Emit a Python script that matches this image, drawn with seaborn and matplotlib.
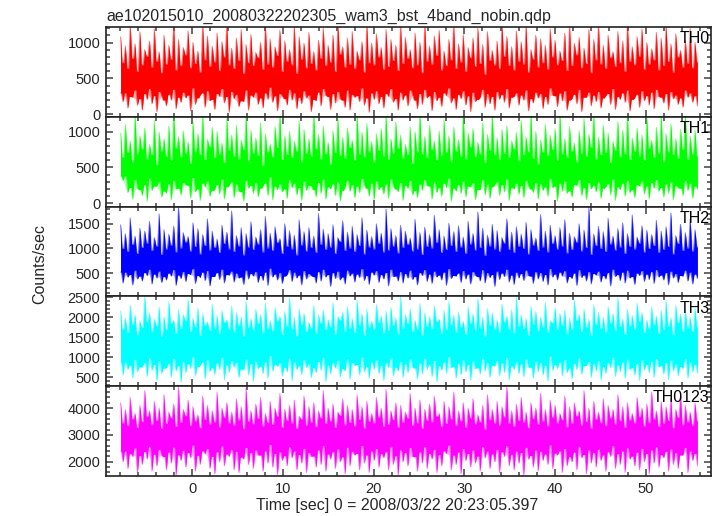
import numpy as np
import pandas as pd
import matplotlib
matplotlib.use("Agg")
import matplotlib.pyplot as plt
import seaborn as sns
from matplotlib.ticker import MultipleLocator

# ---------------- text ----------------
title = "ae102015010_20080322202305_wam3_bst_4band_nobin.qdp"
xlabel = "Time [sec] 0 = 2008/03/22 20:23:05.397"
ylabel = "Counts/sec"
bands = ["TH0", "TH1", "TH2", "TH3", "TH0123"]
colors = ["#ff0000", "#00ff00", "#0000ff", "#00ffff", "#ff00ff"]

# time span of the light curves (s)
t_start, t_end = -7.9, 55.7

# ---------------- data ----------------
# *_hi : spike maxima, *_vu : upper edge of the dense band between spikes
# *_lo : dip minima,   *_vl : lower edge of the dense band between dips
th0_hi = [1080, 950, 1250, 980, 1150, 900, 1020, 1190, 870, 1100,
          960, 1250, 1040, 930, 1160, 1000, 880, 1250, 1090, 950,
          1130, 1010, 1250, 920, 1060, 1180, 970, 1110, 860, 1000,
          1250, 1050, 940, 1170, 1020, 900, 1250, 1080, 990, 1140,
          870, 1030, 1200, 960, 1100, 1250, 940, 1060, 1150, 880,
          1010, 1250, 990, 1120, 930, 1180, 1040, 960, 1250, 1070,
          900, 1130, 1000, 1250, 950, 1090, 1170, 880, 1040, 1250,
          980, 1110, 930, 1060, 1200, 970, 1150, 890, 1020, 1250,
          1080, 940, 1160, 1010, 1250, 900, 1100, 1050, 960, 1190,
          1030, 880, 1130, 1250, 990, 1070, 920, 1180, 1040, 1250,
          960, 1100, 870, 1150, 1020, 1250, 940, 1080, 1190, 1000,
          910, 1140, 1060, 1250, 980, 1120, 890, 1030, 1200, 1000]
th0_vu = [720, 640, 780, 600, 690, 810, 660, 740, 580, 700,
          770, 620, 680, 830, 650, 710, 590, 760, 670, 730,
          610, 800, 690, 640, 750, 570, 720, 680, 790, 630,
          700, 660, 820, 600, 740, 690, 570, 770, 650, 710,
          620, 780, 680, 730, 600, 840, 660, 700, 640, 760,
          590, 720, 690, 800, 630, 670, 750, 610, 710, 780,
          650, 690, 580, 740, 700, 820, 620, 680, 760, 640,
          730, 600, 790, 670, 710, 560, 750, 690, 640, 810,
          680, 620, 740, 700, 590, 770, 660, 720, 630, 800,
          690, 750, 610, 680, 830, 650, 710, 580, 760, 700,
          640, 790, 670, 720, 600, 740, 690, 810, 630, 700,
          760, 620, 680, 740, 590, 800, 660, 710, 650, 730]
th0_vl = [300, 250, 340, 220, 290, 360, 260, 320, 200, 280,
          350, 240, 310, 270, 370, 230, 300, 330, 210, 290,
          360, 250, 320, 280, 190, 340, 270, 310, 230, 300,
          380, 260, 290, 220, 350, 300, 240, 330, 270, 210,
          310, 360, 250, 290, 320, 200, 340, 280, 260, 370,
          230, 300, 330, 250, 290, 360, 220, 310, 270, 340,
          200, 290, 350, 260, 320, 240, 300, 370, 230, 280,
          330, 260, 310, 210, 350, 290, 250, 320, 280, 360,
          240, 300, 270, 340, 220, 310, 290, 250, 370, 260,
          300, 330, 200, 280, 350, 240, 310, 270, 320, 230,
          290, 360, 250, 300, 340, 210, 280, 330, 260, 310,
          350, 240, 290, 320, 270, 230, 340, 300, 260, 310]
th0_lo = [180, 90, 240, 130, 60, 210, 150, 40, 260, 120,
          200, 80, 170, 230, 50, 140, 270, 100, 190, 70,
          250, 160, 30, 220, 110, 180, 60, 240, 140, 90,
          210, 170, 50, 260, 130, 200, 80, 150, 230, 40,
          190, 120, 270, 70, 160, 220, 100, 60, 240, 180,
          130, 30, 210, 150, 90, 250, 170, 60, 200, 120,
          270, 80, 140, 230, 50, 190, 110, 260, 160, 70,
          220, 130, 40, 180, 240, 100, 150, 60, 210, 170,
          90, 250, 130, 200, 50, 160, 230, 80, 140, 270,
          110, 190, 60, 220, 150, 40, 240, 120, 180, 90,
          260, 140, 70, 210, 170, 50, 230, 100, 190, 130,
          80, 250, 160, 60, 220, 140, 100, 240, 170, 120]

th1_hi = [980, 1100, 870, 1250, 940, 1050, 820, 1160, 990, 900,
          1080, 1250, 930, 1010, 860, 1140, 970, 1250, 890, 1060,
          1000, 840, 1180, 950, 1090, 880, 1250, 1020, 910, 1120,
          970, 830, 1070, 1250, 940, 1000, 870, 1150, 1030, 900,
          1250, 960, 1080, 850, 1010, 1190, 920, 1050, 880, 1250,
          990, 1110, 860, 970, 1040, 1250, 900, 1130, 950, 820,
          1070, 1000, 1250, 930, 1090, 870, 1010, 1170, 940, 1060,
          890, 1250, 980, 1040, 850, 1120, 960, 1250, 910, 1030,
          1080, 870, 990, 1160, 930, 1250, 1000, 880, 1100, 950,
          1040, 1250, 900, 1070, 840, 1010, 1180, 960, 1250, 920,
          1090, 980, 860, 1140, 1020, 1250, 910, 1050, 950, 1200,
          880, 1060, 1250, 970, 1110, 900, 1030, 1250, 940, 1020]
th1_vu = [640, 710, 580, 690, 760, 620, 680, 540, 730, 660,
          600, 770, 650, 700, 560, 720, 680, 610, 790, 640,
          690, 570, 740, 660, 620, 750, 590, 700, 670, 530,
          720, 650, 780, 610, 680, 640, 730, 580, 700, 660,
          760, 620, 690, 550, 710, 670, 630, 780, 600, 690,
          650, 720, 580, 740, 660, 610, 700, 770, 630, 680,
          560, 720, 690, 640, 750, 600, 670, 710, 580, 730,
          660, 620, 790, 650, 690, 570, 740, 680, 610, 700,
          640, 760, 590, 680, 720, 630, 550, 710, 670, 750,
          600, 690, 640, 730, 580, 700, 660, 780, 620, 680,
          710, 570, 740, 650, 690, 610, 730, 660, 600, 770,
          640, 700, 580, 720, 680, 630, 750, 610, 690, 660]
th1_vl = [380, 220, 330, 190, 260, 350, 240, 300, 170, 270,
          320, 210, 290, 250, 360, 200, 280, 310, 180, 260,
          340, 230, 300, 270, 160, 320, 250, 290, 210, 280,
          370, 240, 270, 200, 330, 280, 220, 310, 250, 190,
          290, 340, 230, 270, 300, 180, 320, 260, 240, 350,
          210, 280, 310, 230, 270, 340, 200, 290, 250, 320,
          180, 270, 330, 240, 300, 220, 280, 350, 210, 260,
          310, 240, 290, 190, 330, 270, 230, 300, 260, 340,
          220, 280, 250, 320, 200, 290, 270, 230, 350, 240,
          280, 310, 180, 260, 330, 220, 290, 250, 300, 210,
          270, 340, 230, 280, 320, 190, 260, 310, 240, 290,
          330, 220, 270, 300, 250, 210, 320, 280, 240, 290]
th1_lo = [320, 150, 60, 210, 110, 30, 180, 240, 90, 140,
          50, 200, 120, 260, 70, 160, 40, 230, 100, 190,
          130, 60, 250, 80, 170, 30, 210, 140, 90, 240,
          110, 50, 190, 160, 70, 220, 120, 40, 180, 250,
          90, 140, 60, 200, 110, 30, 230, 170, 80, 150,
          260, 100, 50, 190, 130, 70, 240, 160, 40, 210,
          120, 80, 180, 250, 60, 150, 100, 220, 30, 170,
          140, 90, 230, 50, 190, 120, 70, 260, 110, 160,
          40, 200, 130, 80, 240, 150, 60, 180, 100, 220,
          30, 170, 140, 90, 250, 110, 50, 200, 160, 70,
          230, 120, 40, 190, 100, 150, 80, 240, 130, 60,
          210, 170, 90, 140, 50, 220, 110, 180, 70, 200]

th2_hi = [1480, 1300, 1620, 1250, 1410, 1350, 1550, 1220, 1700, 1380,
          1290, 1450, 1860, 1320, 1240, 1520, 1400, 1280, 1600, 1350,
          1190, 1470, 1330, 1760, 1260, 1420, 1300, 1540, 1230, 1380,
          1650, 1310, 1440, 1200, 1500, 1360, 1270, 1580, 1340, 1420,
          1250, 1710, 1390, 1300, 1480, 1220, 1560, 1330, 1450, 1280,
          1620, 1370, 1240, 1500, 1310, 1800, 1400, 1260, 1470, 1350,
          1210, 1590, 1320, 1430, 1280, 1670, 1380, 1250, 1510, 1340,
          1460, 1230, 1550, 1300, 1740, 1410, 1270, 1490, 1360, 1220,
          1600, 1330, 1440, 1290, 1530, 1380, 1210, 1690, 1350, 1470,
          1260, 1420, 1580, 1310, 1240, 1500, 1370, 1830, 1290, 1450,
          1340, 1610, 1250, 1400, 1520, 1300, 1680, 1230, 1460, 1370,
          1280, 1570, 1350, 1440, 1720, 1260, 1490, 1320, 1600, 1380]
th2_vu = [1000, 940, 1080, 900, 1020, 1110, 960, 1050, 880, 990,
          1070, 930, 1010, 1130, 950, 1040, 890, 1060, 970, 1020,
          920, 1100, 990, 940, 1050, 870, 1030, 980, 1090, 930,
          1010, 960, 1120, 900, 1040, 990, 870, 1070, 950, 1020,
          920, 1080, 980, 1030, 900, 1140, 960, 1010, 940, 1060,
          890, 1030, 990, 1100, 930, 970, 1050, 910, 1020, 1080,
          950, 990, 880, 1040, 1010, 1120, 920, 980, 1060, 940,
          1030, 900, 1090, 970, 1020, 860, 1050, 990, 940, 1110,
          980, 920, 1040, 1000, 890, 1070, 960, 1030, 930, 1100,
          990, 1050, 910, 980, 1130, 950, 1020, 880, 1060, 1000,
          940, 1090, 970, 1030, 900, 1040, 990, 1110, 930, 1000,
          1060, 920, 980, 1040, 890, 1100, 960, 1010, 950, 1030]
th2_vl = [520, 470, 560, 440, 510, 580, 480, 540, 430, 500,
          570, 460, 530, 490, 590, 450, 520, 550, 430, 510,
          580, 470, 540, 500, 420, 560, 490, 530, 450, 520,
          600, 480, 510, 440, 570, 520, 460, 550, 490, 430,
          530, 580, 470, 510, 540, 420, 560, 500, 480, 590,
          450, 520, 550, 470, 510, 580, 440, 530, 490, 560,
          430, 510, 570, 480, 540, 460, 520, 590, 450, 500,
          550, 480, 530, 430, 570, 510, 470, 540, 500, 580,
          460, 520, 490, 560, 440, 530, 510, 470, 590, 480,
          520, 550, 430, 500, 570, 460, 530, 490, 540, 450,
          510, 580, 470, 520, 560, 430, 500, 550, 480, 530,
          570, 460, 510, 540, 490, 450, 560, 520, 480, 530]
th2_lo = [300, 420, 260, 380, 340, 450, 280, 400, 310, 360,
          440, 250, 390, 330, 470, 290, 410, 350, 240, 430,
          370, 300, 460, 320, 400, 270, 380, 440, 310, 350,
          250, 420, 360, 290, 470, 330, 400, 260, 380, 450,
          300, 340, 420, 230, 390, 360, 280, 440, 320, 410,
          350, 270, 460, 310, 380, 240, 430, 340, 300, 400,
          370, 260, 450, 330, 290, 420, 360, 250, 390, 440,
          310, 380, 280, 460, 340, 300, 410, 230, 370, 430,
          320, 270, 400, 350, 450, 290, 380, 330, 260, 420,
          360, 440, 300, 390, 250, 410, 340, 280, 460, 320,
          380, 240, 430, 350, 300, 400, 270, 450, 330, 370,
          290, 420, 360, 260, 400, 310, 440, 340, 280, 390]

th3_hi = [2150, 1980, 2300, 2050, 1900, 2520, 2100, 1950, 2250, 2000,
          2380, 1920, 2180, 2060, 2450, 1970, 2220, 2080, 1880, 2320,
          2040, 2160, 1930, 2270, 2110, 2000, 2400, 1960, 2190, 2070,
          2350, 1910, 2230, 2020, 2140, 2480, 1990, 2200, 2090, 1870,
          2290, 2050, 2170, 1940, 2360, 2010, 2130, 2260, 1960, 2420,
          2080, 2190, 1900, 2310, 2030, 2150, 2240, 1980, 2520, 2060,
          2200, 1920, 2340, 2100, 2010, 2280, 1950, 2170, 2390, 2040,
          2130, 1890, 2250, 2070, 2460, 1990, 2210, 2110, 1930, 2330,
          2020, 2180, 2500, 2050, 1960, 2270, 2140, 2000, 2370, 1910,
          2230, 2090, 2160, 1970, 2430, 2060, 2200, 1940, 2300, 2120,
          1990, 2260, 2080, 2480, 1950, 2190, 2040, 2350, 2110, 1920,
          2240, 2030, 2170, 2410, 1980, 2290, 2070, 2150, 2000, 2220]
th3_vu = [1700, 1620, 1820, 1560, 1740, 1880, 1650, 1780, 1530, 1690,
          1850, 1600, 1720, 1910, 1640, 1760, 1550, 1800, 1670, 1730,
          1590, 1870, 1700, 1630, 1790, 1520, 1750, 1680, 1840, 1610,
          1710, 1660, 1900, 1570, 1770, 1700, 1520, 1820, 1640, 1730,
          1600, 1850, 1690, 1760, 1560, 1930, 1650, 1720, 1620, 1800,
          1550, 1750, 1700, 1860, 1610, 1670, 1790, 1580, 1730, 1840,
          1640, 1700, 1540, 1770, 1720, 1890, 1600, 1690, 1810, 1630,
          1760, 1570, 1850, 1670, 1730, 1510, 1790, 1700, 1630, 1880,
          1690, 1610, 1770, 1720, 1550, 1830, 1660, 1750, 1620, 1860,
          1700, 1790, 1580, 1690, 1920, 1640, 1740, 1540, 1810, 1710,
          1630, 1850, 1670, 1760, 1570, 1780, 1700, 1890, 1620, 1710,
          1810, 1600, 1690, 1770, 1560, 1860, 1650, 1730, 1640, 1760]
th3_vl = [880, 800, 950, 760, 860, 990, 820, 920, 730, 850,
          970, 790, 900, 840, 1020, 770, 880, 940, 740, 860,
          1000, 810, 920, 870, 710, 960, 840, 900, 780, 880,
          1040, 820, 860, 750, 980, 880, 790, 940, 840, 740,
          900, 1000, 810, 860, 930, 720, 960, 870, 820, 1010,
          770, 880, 940, 800, 860, 990, 750, 900, 840, 960,
          730, 860, 980, 820, 920, 790, 880, 1020, 770, 850,
          940, 820, 900, 740, 980, 870, 800, 920, 860, 1000,
          790, 880, 840, 960, 750, 900, 870, 800, 1030, 820,
          880, 940, 730, 850, 990, 790, 900, 840, 920, 770,
          860, 1000, 810, 880, 950, 740, 850, 940, 820, 900,
          970, 790, 870, 930, 840, 770, 960, 880, 820, 900]
th3_lo = [560, 700, 480, 640, 760, 520, 680, 420, 600, 740,
          500, 660, 380, 620, 720, 540, 800, 460, 650, 580,
          700, 440, 620, 760, 500, 680, 560, 400, 720, 600,
          480, 660, 780, 530, 640, 420, 700, 570, 750, 490,
          620, 680, 400, 590, 730, 510, 660, 450, 800, 560,
          640, 480, 700, 600, 420, 740, 540, 660, 500, 620,
          760, 460, 580, 700, 520, 390, 680, 600, 740, 480,
          560, 640, 430, 720, 580, 660, 500, 780, 540, 620,
          440, 700, 600, 520, 760, 480, 640, 560, 410, 680,
          720, 540, 620, 460, 700, 580, 800, 500, 660, 440,
          600, 740, 520, 640, 480, 700, 560, 420, 680, 620,
          500, 760, 580, 450, 660, 540, 720, 480, 640, 600]

th0123_hi = [4200, 3950, 4400, 3800, 4100, 4650, 3900, 4250, 4000, 4500,
             3850, 4150, 4800, 3950, 4300, 4050, 3750, 4450, 4100, 3900,
             4600, 4000, 4200, 3850, 4350, 4050, 4750, 3900, 4150, 4400,
             3800, 4250, 4000, 4550, 3950, 4100, 4300, 3700, 4450, 4050,
             4200, 3900, 4650, 4000, 4150, 3850, 4350, 4100, 3950, 4500,
             4050, 4250, 3800, 4400, 4000, 4700, 3900, 4200, 4100, 3850,
             4550, 4000, 4300, 3950, 4150, 4450, 3800, 4250, 4050, 4600,
             3900, 4200, 4000, 4350, 3750, 4100, 4500, 3950, 4250, 4050,
             4800, 3900, 4150, 4400, 3850, 4200, 4000, 4550, 3950, 4300,
             4100, 3800, 4450, 4050, 4200, 3900, 4650, 4000, 4250, 3850,
             4350, 4100, 3950, 4500, 4050, 4200, 3800, 4400, 4000, 4150,
             4600, 3900, 4250, 4050, 4350, 3950, 4500, 4100, 3850, 4200]
th0123_vu = [3450, 3350, 3600, 3280, 3500, 3680, 3380, 3540, 3250, 3440,
             3640, 3320, 3470, 3720, 3360, 3520, 3270, 3580, 3410, 3490,
             3300, 3660, 3450, 3370, 3560, 3230, 3510, 3420, 3620, 3340,
             3460, 3390, 3700, 3290, 3540, 3450, 3240, 3600, 3370, 3480,
             3310, 3640, 3430, 3520, 3280, 3740, 3380, 3470, 3340, 3580,
             3260, 3510, 3450, 3650, 3330, 3400, 3570, 3300, 3480, 3630,
             3360, 3450, 3250, 3550, 3490, 3690, 3310, 3430, 3600, 3350,
             3530, 3290, 3640, 3410, 3490, 3220, 3570, 3450, 3360, 3670,
             3440, 3330, 3540, 3480, 3270, 3610, 3390, 3520, 3340, 3650,
             3450, 3570, 3300, 3440, 3710, 3370, 3500, 3250, 3590, 3460,
             3350, 3640, 3410, 3530, 3290, 3560, 3450, 3680, 3340, 3460,
             3600, 3320, 3440, 3550, 3270, 3650, 3380, 3490, 3360, 3530]
th0123_vl = [2400, 2300, 2520, 2230, 2380, 2580, 2280, 2460, 2190, 2360,
             2550, 2260, 2430, 2340, 2620, 2240, 2400, 2490, 2200, 2370,
             2590, 2290, 2460, 2390, 2170, 2530, 2340, 2440, 2250, 2400,
             2640, 2310, 2370, 2220, 2560, 2400, 2270, 2500, 2340, 2210,
             2440, 2600, 2290, 2370, 2480, 2180, 2540, 2390, 2310, 2610,
             2250, 2400, 2490, 2300, 2370, 2580, 2220, 2440, 2340, 2530,
             2190, 2370, 2570, 2310, 2460, 2270, 2400, 2620, 2250, 2360,
             2490, 2310, 2440, 2210, 2570, 2390, 2290, 2460, 2370, 2600,
             2280, 2400, 2340, 2540, 2230, 2440, 2390, 2290, 2630, 2320,
             2400, 2490, 2190, 2360, 2580, 2270, 2440, 2340, 2470, 2250,
             2370, 2600, 2300, 2400, 2520, 2210, 2360, 2500, 2310, 2440,
             2560, 2270, 2390, 2480, 2340, 2250, 2530, 2400, 2310, 2420]
th0123_lo = [2000, 1750, 2200, 1600, 1900, 2100, 1650, 1850, 2250, 1700,
             1950, 1500, 2050, 1800, 2150, 1650, 1900, 2300, 1750, 1550,
             2000, 1850, 2200, 1700, 1600, 2100, 1900, 1750, 2250, 1650,
             1950, 1800, 1500, 2050, 1850, 2150, 1700, 1950, 1600, 2200,
             1800, 1900, 1650, 2100, 1750, 2000, 1550, 1850, 2250, 1700,
             1950, 1600, 2050, 1800, 2150, 1700, 1900, 1500, 2000, 1850,
             2200, 1650, 1950, 1750, 2100, 1600, 1850, 2300, 1700, 1900,
             1550, 2050, 1800, 1950, 1650, 2150, 1750, 2000, 1600, 2200,
             1850, 1700, 1950, 1500, 2100, 1800, 1650, 2050, 1900, 1750,
             2250, 1600, 1850, 2000, 1700, 2150, 1550, 1950, 1800, 2050,
             1650, 2200, 1750, 1900, 1600, 2100, 1850, 1700, 2000, 1550,
             1950, 1800, 2150, 1650, 1900, 1750, 2250, 1600, 2050, 1850]

his = [th0_hi, th1_hi, th2_hi, th3_hi, th0123_hi]
vus = [th0_vu, th1_vu, th2_vu, th3_vu, th0123_vu]
vls = [th0_vl, th1_vl, th2_vl, th3_vl, th0123_vl]
los = [th0_lo, th1_lo, th2_lo, th3_lo, th0123_lo]

# axis setup
ylims = [(-33, 1216), (-47, 1208), (26, 1851), (280, 2515), (1466, 4821)]
ymajor = [500, 500, 500, 500, 1000]
yminor = [100, 100, 100, 100, 200]

# ---------------- style ----------------
sns.set_theme(style="ticks")
plt.rcParams["font.family"] = ["Liberation Sans", "DejaVu Sans"]
plt.rcParams["font.size"] = 10.5
edge = "#222222"
tickc = "#404040"

fig, axes = plt.subplots(5, 1, figsize=(7.17, 5.16), dpi=100, sharex=True)
fig.subplots_adjust(left=106 / 717, right=711 / 717, top=1 - 27 / 516,
                    bottom=1 - 476 / 516, hspace=0)


def band_edges(peak, base, t_peak, half):
    """Edge path: thin spikes at t_peak rising from the band level `base`
    (base[i] is held between spike i and spike i+1)."""
    xs, ys = [], []
    for i in range(len(peak)):
        b_prev = base[i - 1] if i > 0 else base[i]
        xs += [t_peak[i] - half, t_peak[i], t_peak[i] + half]
        ys += [b_prev, peak[i], base[i]]
    return np.array(xs), np.array(ys)


for ax, hi, vu, vl, lo, col, name, yl, ymj, ymn in zip(
        axes, his, vus, vls, los, colors, bands, ylims, ymajor, yminor):
    n = len(hi)
    step = (t_end - t_start) / (n - 0.5)
    t_up = t_start + np.arange(n) * step          # upward spikes
    t_dn = t_start + (np.arange(n) + 0.5) * step  # downward dips

    # pale fringe between spikes (broad triangles)
    fr = pd.DataFrame({
        "t": np.concatenate([t_up, t_dn]),
        "upper": np.concatenate([hi, vu]),
        "lower": np.concatenate([vl, lo]),
    }).sort_values("t")
    fr = fr[(fr["t"] >= t_start) & (fr["t"] <= t_end)]
    ax.fill_between(fr["t"], fr["lower"], fr["upper"], color=col,
                    alpha=0.3, lw=0)

    # solid band with thin spikes
    half = 0.3 * step
    xu, yu = band_edges(hi, vu, t_up, half)
    xd, yd = band_edges(lo, vl, t_dn, half)
    x = np.union1d(xu, xd)
    x = x[(x >= t_start) & (x <= t_end)]
    df = pd.DataFrame({"t": x,
                       "upper": np.interp(x, xu, yu),
                       "lower": np.interp(x, xd, yd)})
    ax.fill_between(df["t"], df["lower"], df["upper"], color=col, lw=0)
    sns.lineplot(data=df, x="t", y="upper", ax=ax, color=col, lw=0.7,
                 alpha=0.5, estimator=None, sort=False)
    sns.lineplot(data=df, x="t", y="lower", ax=ax, color=col, lw=0.7,
                 alpha=0.5, estimator=None, sort=False)

    ax.set_ylim(*yl)
    ax.set_xlim(-9.5, 57.2)
    ax.set_ylabel("")
    ax.set_xlabel("")
    ax.yaxis.set_major_locator(MultipleLocator(ymj))
    ax.yaxis.set_minor_locator(MultipleLocator(ymn))
    ax.xaxis.set_major_locator(MultipleLocator(10))
    ax.xaxis.set_minor_locator(MultipleLocator(2))
    ax.tick_params(which="both", direction="in", top=True, right=True,
                   color=tickc, width=1.1, labelsize=10.5, pad=4)
    ax.tick_params(which="major", length=5)
    ax.tick_params(which="minor", length=2.6)
    for s in ax.spines.values():
        s.set_color(edge)
        s.set_linewidth(1.2)
    ax.annotate(name, xy=(1, 1), xycoords="axes fraction",
                xytext=(-1, -3), textcoords="offset points",
                ha="right", va="top", fontsize=11.5, color="black")
    if ax is not axes[-1]:
        ax.tick_params(labelbottom=False)

fig.text(106 / 717, 1 - 21 / 516, title, ha="left", va="baseline",
         fontsize=11.5)
fig.text(397 / 717, 1 - 510 / 516, xlabel, ha="center", va="baseline",
         fontsize=11.5)
fig.text(40 / 717, 1 - 264 / 516, ylabel, ha="center", va="center",
         rotation=90, fontsize=11.5)

fig.savefig("out.png", dpi=100)
